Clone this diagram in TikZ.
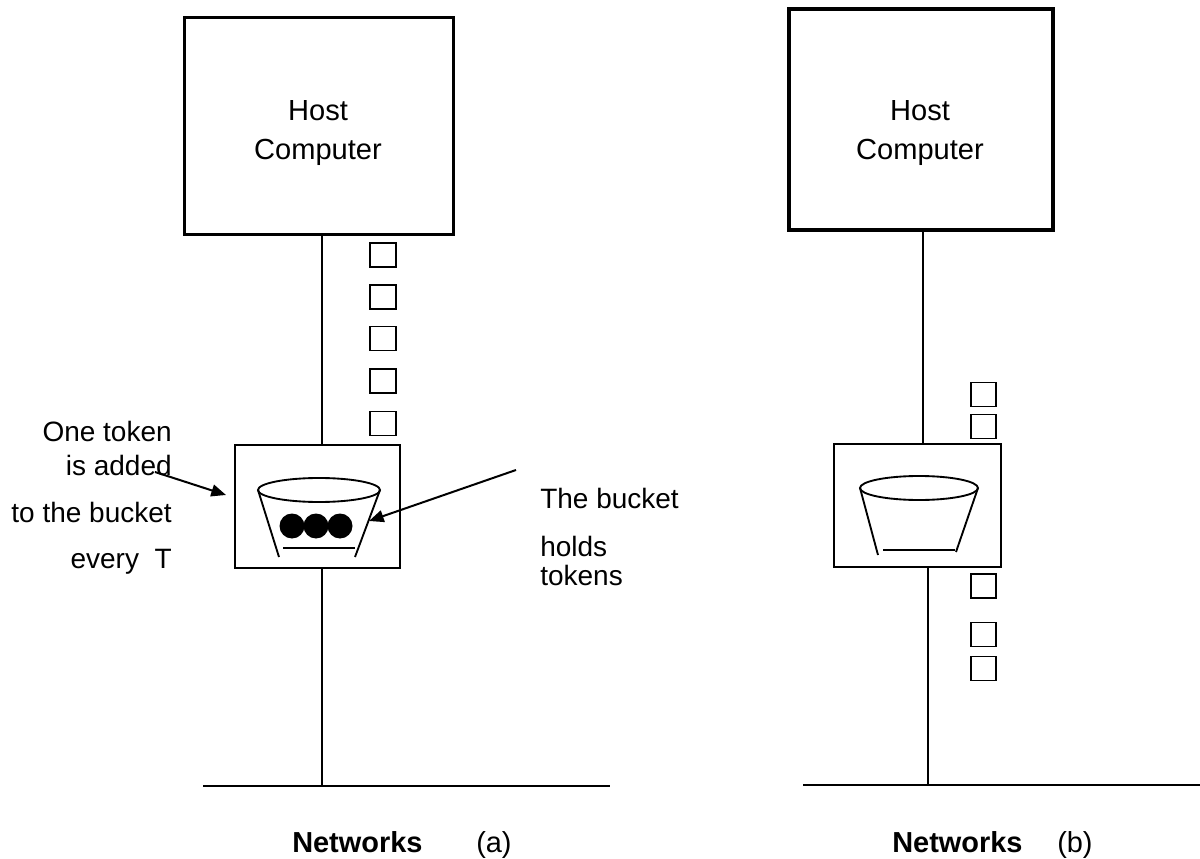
\documentclass[tikz,border=0pt]{standalone}
\usepackage{fontspec}
\setmainfont{Liberation Sans}
\usetikzlibrary{arrows.meta}
\begin{document}
\begin{tikzpicture}[x=0.75pt,y=-0.75pt,
  hostbox/.style={draw,line width=2.6pt,inner sep=0pt},
  bucketbox/.style={draw,line width=1.5pt,inner sep=0pt},
  pkt/.style={draw,line width=1.4pt,minimum width=19pt,minimum height=18pt,inner sep=0pt},
  wire/.style={line width=1.3pt},
  lbl/.style={font=\fontsize{21}{23}\selectfont,inner sep=0pt},
  hosttxt/.style={font=\fontsize{21.8}{24}\selectfont,inner sep=0pt,anchor=base},
  captxt/.style={font=\fontsize{21.7}{24}\selectfont,inner sep=0pt,anchor=base west},
  ptr/.style={line width=1.5pt,-{Triangle[length=11pt,width=9pt]}}]
\useasboundingbox (0,0) rectangle (1200,859);

% ---------- panel (a) ----------
\node[hostbox,minimum width=202pt,minimum height=163pt] (hostA) at (319,126) {};
\node[hosttxt] (hostAt1) at (318,121) {Host};
\node[hosttxt] (hostAt2) at (318,160) {Computer};
\node[bucketbox,minimum width=124pt,minimum height=92pt] (bucketA) at (317.5,506.5) {};
\coordinate (xa) at (322,0);
\coordinate (netA) at (322,786);
\draw[wire] (hostA.south -| xa) -- (bucketA.north -| xa);
\draw[wire] (bucketA.south -| xa) -- (netA);
\coordinate (netAl) at (203,786);
\coordinate (netAr) at (610,786);
\draw[line width=1.5pt] (netAl) -- (netAr);

\foreach \i/\y in {1/255,2/297,3/338.5,4/381,5/423.5}
  \node[pkt] (pa\i) at (383,\y) {};

% bucket (a)
\draw[line width=1.4pt] (319,490) ellipse [x radius=61, y radius=12];
\draw[line width=1.4pt] (258,490) -- (279,557);
\draw[line width=1.4pt] (380,490) -- (355,557);
\draw[line width=1.1pt] (283,548) -- (355,548);
\foreach \i/\x in {1/292,2/316,3/340}
  \fill (\x,526) circle [radius=12.5];

\node[lbl,anchor=base east] (la1) at (172,441) {One token};
\node[lbl,anchor=base east] (la2) at (172,475) {is added};
\node[lbl,anchor=base east] (la3) at (172,522) {to the bucket};
\node[lbl,anchor=base east] (la4) at (172,568) {every\ \ T};
\coordinate (arA0) at (155,472);
\coordinate (arA1) at (226,495);
\draw[ptr] (arA0) -- (arA1);

\node[lbl,anchor=base west] (ra1) at (540,508) {The bucket};
\node[lbl,anchor=base west] (ra2) at (540,556) {holds};
\node[lbl,anchor=base west] (ra3) at (540,585) {tokens};
\coordinate (arB0) at (516,470);
\coordinate (arB1) at (369,521);
\draw[ptr] (arB0) -- (arB1);

\node[captxt,font=\fontsize{21.7}{24}\selectfont\bfseries] (capA1) at (292,852) {Networks};
\node[captxt] (capA2) at (476,852) {(a)};

% ---------- panel (b) ----------
\node[hostbox,minimum width=198pt,minimum height=166pt] (hostB) at (921,119.5) {};
\node[hosttxt] (hostBt1) at (920,121) {Host};
\node[hosttxt] (hostBt2) at (920,160) {Computer};
\node[bucketbox,minimum width=125pt,minimum height=92pt] (bucketB) at (917.5,505.5) {};
\coordinate (xb1) at (923,0);
\coordinate (xb2) at (928,0);
\coordinate (netB) at (928,785);
\draw[wire] (hostB.south -| xb1) -- (bucketB.north -| xb1);
\draw[wire] (bucketB.south -| xb2) -- (netB);
\coordinate (netBl) at (803,785);
\coordinate (netBr) at (1200,785);
\draw[line width=1.5pt] (netBl) -- (netBr);

\foreach \i/\y in {1/394.5,2/426.5,3/586,4/634.5,5/668.5}
  \node[pkt] (pb\i) at (983.5,\y) {};

% bucket (b)
\draw[line width=1.4pt] (919,488) ellipse [x radius=59, y radius=12];
\draw[line width=1.4pt] (860,488) -- (878,555);
\draw[line width=1.4pt] (978,488) -- (956,552);
\draw[line width=1.1pt] (883,550) -- (955,550);

\node[captxt,font=\fontsize{21.7}{24}\selectfont\bfseries] (capB1) at (892,852) {Networks};
\node[captxt] (capB2) at (1057,852) {(b)};
\end{tikzpicture}
\end{document}
